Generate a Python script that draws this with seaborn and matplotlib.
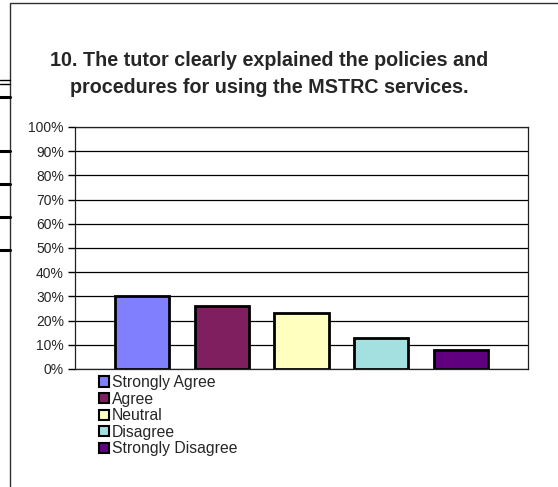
import matplotlib
matplotlib.use('Agg')
import matplotlib.pyplot as plt
import seaborn as sns
from matplotlib.patches import Patch, Rectangle
from matplotlib.lines import Line2D
from matplotlib.ticker import PercentFormatter

# 数据
categories = ["Strongly Agree", "Agree", "Neutral", "Disagree", "Strongly Disagree"]
values = [30, 26, 23, 13, 8]
colors = ["#8080FF", "#7F1F5F", "#FFFFC0", "#A4E0E0", "#600080"]
title = "10. The tutor clearly explained the policies and\nprocedures for using the MSTRC services."

sns.set_style("white")
plt.rcParams['font.family'] = ['Liberation Sans', 'DejaVu Sans']

fig = plt.figure(figsize=(5.58, 4.87), dpi=100)
ax = fig.add_axes([75 / 558, 1 - 369 / 487, 453 / 558, 242 / 487])

sns.barplot(x=categories, y=values, hue=categories, palette=colors,
            edgecolor="black", linewidth=2, width=0.68, legend=False,
            saturation=1, ax=ax)

ax.set_ylim(0, 100)
ax.set_xlim(-0.84, 4.84)
ax.set_yticks(range(0, 101, 10))
ax.yaxis.set_major_formatter(PercentFormatter(decimals=0))
ax.set_xticks([])
ax.set_xlabel("")
ax.set_ylabel("")
ax.tick_params(axis='y', length=5, width=1, color='black', labelsize=10, pad=3,
               left=True, direction='out')
ax.grid(axis='y', color='black', linewidth=0.9)
ax.set_axisbelow(True)
for s in ax.spines.values():
    s.set_visible(True)
    s.set_color('#202020')
    s.set_linewidth(0.9)

fig.text(269 / 558, 1 - 74 / 487, title, ha='center', va='center',
         fontsize=14.2, fontweight='bold', linespacing=1.5)

# 图例
handles = [Patch(facecolor=c, edgecolor='black', linewidth=1.5) for c in colors]
fig.legend(handles, categories, loc='upper left',
           bbox_to_anchor=(88 / 558, 1 - 364 / 487), frameon=False,
           fontsize=11.3, handlelength=0.62, handleheight=0.62,
           handletextpad=0.2, labelspacing=0.1, borderpad=0.2)

# 图表外框
fig.patches.append(Rectangle((10 / 558, -0.1), 1.2, 1 - 3 / 487 + 0.1,
                             transform=fig.transFigure, fill=False,
                             edgecolor='#303030', linewidth=1))

# 左侧页面残留线条
for y, lw in [(80, 1), (84, 1), (97, 2.2), (151, 2.2), (184, 2.2), (217, 2.2), (250, 2.2)]:
    fig.add_artist(Line2D([0, 10 / 558], [1 - y / 487] * 2, color='black',
                          linewidth=lw, transform=fig.transFigure))

plt.savefig("out.png", dpi=100)
plt.close()
